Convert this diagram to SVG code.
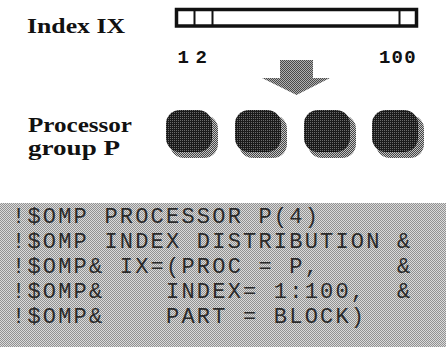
<svg xmlns="http://www.w3.org/2000/svg" width="446" height="347" viewBox="0 0 446 347">
  <style>
    .lbl { font-family: "Liberation Serif", "Times New Roman", serif; font-weight: bold; font-size: 22px; fill: #111; }
    .num { font-family: "Liberation Mono", "Courier New", monospace; font-weight: bold; font-size: 19px; fill: #111; }
    .code { font-family: "Liberation Mono", "Courier New", monospace; font-size: 22px; letter-spacing: 2.2px; fill: #2a2a2a; white-space: pre; }
    .barline { stroke: #111; stroke-width: 2; }
  </style>
  <defs>
    <pattern id="htLight" patternUnits="userSpaceOnUse" width="2" height="2">
      <rect width="2" height="2" fill="#dadada"/>
      <rect width="1" height="1" fill="#929292"/>
      <rect x="1" y="1" width="1" height="1" fill="#929292"/>
    </pattern>
    <pattern id="htMid" patternUnits="userSpaceOnUse" width="2" height="2">
      <rect width="2" height="2" fill="#b0b0b0"/>
      <rect width="1" height="1" fill="#4a4a4a"/>
      <rect x="1" y="1" width="1" height="1" fill="#4a4a4a"/>
    </pattern>
    <pattern id="htDark" patternUnits="userSpaceOnUse" width="2" height="2">
      <rect width="2" height="2" fill="#1a1a1a"/>
      <rect width="1" height="1" fill="#6a6a6a"/>
    </pattern>
    <pattern id="htShadow" patternUnits="userSpaceOnUse" width="2" height="2">
      <rect width="2" height="2" fill="#444"/>
      <rect width="1" height="1" fill="#c4c4c4"/>
      <rect x="1" y="1" width="1" height="1" fill="#c4c4c4"/>
    </pattern>
    <g id="blob">
      <rect x="4" y="5" width="48" height="43" rx="14" fill="url(#htShadow)"/>
      <rect x="0" y="0" width="46" height="42" rx="14" fill="url(#htDark)"/>
    </g>
  </defs>

  <rect width="446" height="347" fill="#ffffff"/>

  <g id="label-index">
    <text class="lbl" x="27" y="33" font-size="24" textLength="98" lengthAdjust="spacingAndGlyphs">Index IX</text>
  </g>

  <g id="index-bar">
    <rect x="176.5" y="9.5" width="240" height="16.5" fill="#ffffff" stroke="#111" stroke-width="3.5"/>
    <line class="barline" x1="194.5" y1="9" x2="194.5" y2="26"/>
    <line class="barline" x1="212.5" y1="9" x2="212.5" y2="26"/>
    <line class="barline" x1="399.5" y1="9" x2="399.5" y2="26"/>
    <text class="num" x="177.5" y="63" letter-spacing="6.6">12</text>
    <text class="num" x="379" y="63" letter-spacing="1.2">100</text>
  </g>

  <g id="connectors">
    <polygon points="280,60 313,60 313,78 330,78 296.5,95 262,78 280,78" fill="url(#htMid)"/>
  </g>

  <g id="label-processor">
    <text class="lbl" x="28" y="132" textLength="104" lengthAdjust="spacingAndGlyphs">Processor</text>
    <text class="lbl" x="28" y="155" textLength="92" lengthAdjust="spacingAndGlyphs">group P</text>
  </g>

  <g id="proc-1"><use href="#blob" x="166" y="110"/></g>
  <g id="proc-2"><use href="#blob" x="235" y="110"/></g>
  <g id="proc-3"><use href="#blob" x="304" y="110"/></g>
  <g id="proc-4"><use href="#blob" x="372" y="110"/></g>

  <g id="code">
    <rect x="0" y="203" width="446" height="144" fill="url(#htLight)"/>
    <text class="code" x="12" y="223">!$OMP PROCESSOR P(4)</text>
    <text class="code" x="12" y="248">!$OMP INDEX DISTRIBUTION &amp;</text>
    <text class="code" x="12" y="273">!$OMP&amp; IX=(PROC = P,     &amp;</text>
    <text class="code" x="12" y="298">!$OMP&amp;    INDEX= 1:100,  &amp;</text>
    <text class="code" x="12" y="323">!$OMP&amp;    PART = BLOCK)</text>
  </g>
</svg>
